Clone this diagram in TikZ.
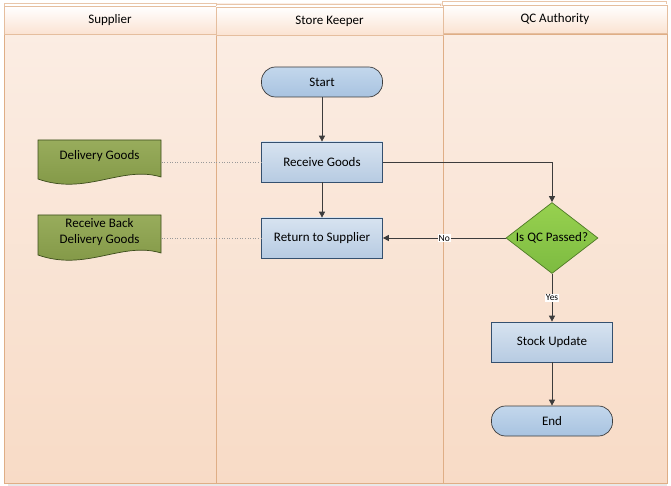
\documentclass[tikz,border=0pt]{standalone}
\usepackage{fontspec}
\setmainfont{Carlito}
\usetikzlibrary{arrows.meta,shapes.geometric}

\definecolor{lanetop}{HTML}{FBEEE5}
\definecolor{lanebot}{HTML}{F8DBC6}
\definecolor{laneline}{HTML}{DFAE86}
\definecolor{headbot}{HTML}{FBE3D2}
\definecolor{boxtop}{HTML}{D7E3F0}
\definecolor{boxbot}{HTML}{B7CBE2}
\definecolor{boxline}{HTML}{34506F}
\definecolor{termtop}{HTML}{C3D7EC}
\definecolor{termbot}{HTML}{A8C3E0}
\definecolor{qctop}{HTML}{97D14F}
\definecolor{qcbot}{HTML}{7DBB41}
\definecolor{qcline}{HTML}{4E7A26}
\definecolor{doctop}{HTML}{98AC5C}
\definecolor{docbot}{HTML}{7F9543}
\definecolor{docline}{HTML}{3D4D1C}
\definecolor{flowline}{HTML}{3C3C3C}

\tikzset{
  header/.style={draw=laneline!80,top color=white,bottom color=headbot,minimum height=28pt,inner sep=0pt},
  process/.style={draw=boxline,line width=.7pt,top color=boxtop,bottom color=boxbot,minimum width=121pt,minimum height=40pt},
  terminal/.style={draw=flowline,line width=.7pt,top color=termtop,bottom color=termbot,rounded corners=14pt,minimum width=121pt,minimum height=30pt},
  decision/.style={diamond,draw=qcline,line width=.7pt,top color=qctop,bottom color=qcbot,aspect=1.3,inner sep=1pt,minimum width=92pt,minimum height=71pt},
  docbox/.style={minimum width=123pt,minimum height=32pt,align=center,inner sep=0pt},
  docshape/.style={draw=docline,line width=.7pt,top color=doctop,bottom color=docbot},
  flow/.style={draw=flowline,line width=.8pt,-{Triangle[length=6pt,width=6pt]}},
  tie/.style={draw=gray!80,dotted,line width=.6pt},
  edgelbl/.style={fill=white,inner sep=1pt,font=\fontsize{9.5}{11}\selectfont,text=black}
}

\begin{document}
\begin{tikzpicture}[x=1pt,y=-1pt,font=\fontsize{13}{15.5}\selectfont]
\useasboundingbox (0,0) rectangle (671,486);
% lanes
\fill[gray!18] (8,483) rectangle (667,486);
\shade[top color=lanetop,bottom color=lanebot] (4,4) rectangle (667,483);
\draw[laneline] (4,34) rectangle (667,483);
\draw[laneline] (216,34) -- (216,483);
\draw[laneline] (443,34) -- (443,483);
% lane headers
\draw[laneline!70,fill=white] (4,3) rectangle (216,30);
\draw[laneline!70,fill=white] (216,4) rectangle (440,30);
\draw[laneline!70,fill=white] (442,1) rectangle (666,30);
\node[header,minimum width=212pt] (hsup) at (110,20.5) {Supplier};
\node[header,minimum width=227pt] (hkeep) at (329.5,21) {Store Keeper};
\node[header,minimum width=224pt] (hqca) at (555,19) {QC Authority};

% supplier documents
\draw[docshape] (38,140) -- (161,140) -- (161,177) .. controls (122,165) and (86,196) .. (38,179) -- cycle;
\draw[docshape] (38,215) -- (161,215) -- (161,253) .. controls (122,241) and (86,272) .. (38,255) -- cycle;
\node[docbox] (dgoods) at (99.5,156) {Delivery Goods};
\node[docbox] (dback) at (99.5,232) {Receive Back\\Delivery Goods};

% flow nodes
\node[terminal] (start) at (322,82) {Start};
\node[process] (rgoods) at (322,162) {Receive Goods};
\node[process] (rsupp) at (322,238) {Return to Supplier};
\node[decision] (qcpass) at (552,238) {Is QC Passed?};
\node[process] (stock) at (552,342) {Stock Update};
\node[terminal] (finish) at (552,421) {End};

% connectors
\draw[tie] (rgoods.west) -- (rgoods.west -| dgoods.east);
\draw[tie] (rsupp.west) -- (rsupp.west -| dback.east);
\draw[flow] (start) -- (rgoods);
\draw[flow] (rgoods) -- (rsupp);
\draw[flow] (rgoods.east) -| (qcpass.north);
\draw[flow] (qcpass.west) -- node[edgelbl] {No} (rsupp.east);
\draw[flow] (qcpass.south) -- node[edgelbl] {Yes} (stock.north);
\draw[flow] (stock) -- (finish);
\end{tikzpicture}
\end{document}
